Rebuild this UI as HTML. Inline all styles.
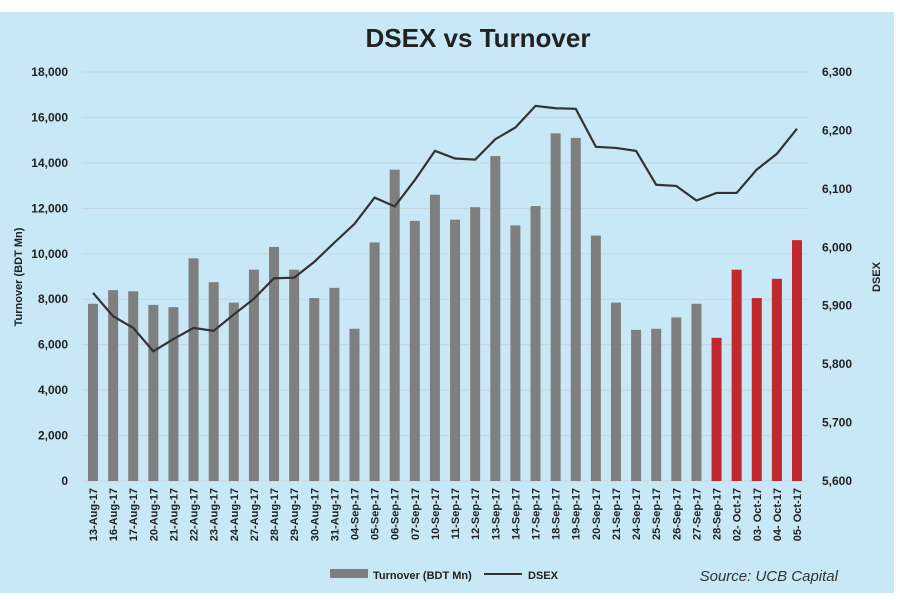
<!DOCTYPE html><html><head><style>body{margin:0;background:#fff}svg{display:block}text{font-family:"Liberation Sans",sans-serif}</style></head><body>
<svg width="900" height="600" viewBox="0 0 900 600">
<rect x="0" y="12" width="894" height="581" fill="#c8e8f8"/>
<text x="478" y="47" text-anchor="middle" font-size="26" font-weight="bold" fill="#222">DSEX vs Turnover</text>
<g id="g"></g>
<text x="838" y="581" font-size="15" font-style="italic" fill="#333" text-anchor="end">Source: UCB Capital</text>
<rect x="330" y="569" width="38" height="9" fill="#7f7f7f"/><text x="373" y="579" font-size="11" font-weight="bold" fill="#222">Turnover (BDT Mn)</text>
<line x1="484" y1="574" x2="522" y2="574" stroke="#333" stroke-width="2"/><text x="528" y="579" font-size="11" font-weight="bold" fill="#222">DSEX</text>
<text transform="translate(22,277) rotate(-90)" text-anchor="middle" font-size="11" font-weight="bold" fill="#222">Turnover (BDT Mn)</text>
<text transform="translate(880,277) rotate(-90)" text-anchor="middle" font-size="11" font-weight="bold" fill="#222">DSEX</text>
</svg>
<script>
const g=document.getElementById('g');let h='';
const L=['13-Aug-17','16-Aug-17','17-Aug-17','20-Aug-17','21-Aug-17','22-Aug-17','23-Aug-17','24-Aug-17','27-Aug-17','28-Aug-17','29-Aug-17','30-Aug-17','31-Aug-17','04-Sep-17','05-Sep-17','06-Sep-17','07-Sep-17','10-Sep-17','11-Sep-17','12-Sep-17','13-Sep-17','14-Sep-17','17-Sep-17','18-Sep-17','19-Sep-17','20-Sep-17','21-Sep-17','24-Sep-17','25-Sep-17','26-Sep-17','27-Sep-17','28-Sep-17','02- Oct-17','03- Oct-17','04- Oct-17','05- Oct-17'];
const T=[7800,8400,8350,7750,7650,9800,8750,7850,9300,10300,9300,8050,8500,6700,10500,13700,11450,12600,11500,12050,14300,11250,12100,15300,15100,10800,7850,6650,6700,7200,7800,6300,9300,8050,8900,10600];
const D=[5922,5882,5862,5822,5843,5862,5857,5885,5912,5947,5948,5975,6008,6040,6085,6070,6115,6165,6152,6150,6185,6205,6242,6238,6237,6172,6170,6165,6107,6105,6080,6093,6093,6133,6160,6203];
const y0=481,H=409;
for(let i=0;i<=9;i++){const y=y0-i*H/9;h+=`<line x1="82" x2="808" y1="${y}" y2="${y}" stroke="#c4d6de" stroke-width="1"/>`;
h+=`<text x="68" y="${y+4}" text-anchor="end" font-size="12" font-weight="bold" fill="#222">${(i*2000).toLocaleString('en-US')}</text>`;}
for(let i=0;i<=7;i++){const y=y0-i*H/7;h+=`<text x="822" y="${y+4}" font-size="12" font-weight="bold" fill="#222">${(5600+i*100).toLocaleString('en-US')}</text>`;}
const sp=(797-93)/35;let pts=[];
T.forEach((v,i)=>{const x=93+i*sp,bh=v/18000*H;h+=`<rect x="${x-5}" y="${y0-bh}" width="10" height="${bh}" fill="${i>=31?'#c0282d':'#7f7f7f'}"/>`;
h+=`<text transform="translate(${x+4},488) rotate(-90)" text-anchor="end" font-size="11" font-weight="bold" fill="#222">${L[i]}</text>`;
pts.push(x+','+(y0-(D[i]-5600)*H/700));});
h+=`<polyline points="${pts.join(' ')}" fill="none" stroke="#333" stroke-width="2.2"/>`;
g.innerHTML=h;
</script></body></html>
